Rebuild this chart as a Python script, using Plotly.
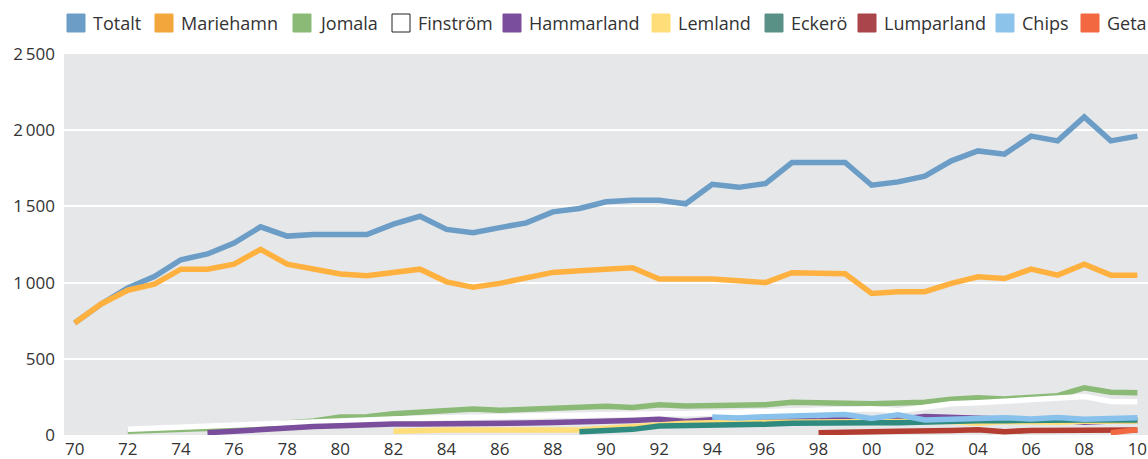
import plotly.graph_objects as go

# ---- data ----
series_names = ["Totalt", "Mariehamn", "Jomala", "Finström", "Hammarland",
                "Lemland", "Eckerö", "Lumparland", "Chips", "Geta"]
start_years = [1970, 1970, 1972, 1972, 1975, 1982, 1989, 1998, 1994, 2009]

totalt = [735, 860, 965, 1040, 1150, 1188, 1260, 1366, 1305, 1315,
          1315, 1315, 1384, 1435, 1349, 1327, 1361, 1392, 1464, 1486,
          1530, 1540, 1540, 1517, 1645, 1625, 1650, 1788, 1788, 1788,
          1639, 1661, 1698, 1799, 1864, 1843, 1961, 1930, 2087, 1930, 1961]
mariehamn = [735, 860, 950, 990, 1088, 1088, 1121, 1218, 1121, 1090,
             1056, 1045, 1071, 1088, 1005, 969, 995, 1027, 1067, 1078,
             1088, 1097, 1023, 1023, 1023, 1012, 1000, 1065, 1058, 1058,
             929, 940, 940, 995, 1038, 1027, 1088, 1049, 1121, 1049, 1049]
jomala = [25, 30, 33, 38, 50, 65, 75, 92,
          118, 120, 140, 150, 152, 170, 162, 170, 180, 182,
          188, 180, 198, 190, 190, 190, 198, 215, 215, 208,
          205, 206, 215, 235, 245, 237, 248, 258, 310, 280, 278]
finstrom = [38, 45, 50, 55, 62, 72, 82, 90,
            98, 100, 105, 110, 115, 115, 120, 125, 128, 130,
            135, 138, 140, 140, 145, 150, 155, 160, 165, 170,
            172, 160, 185, 205, 212, 220, 232, 238, 252, 220, 218]
hammarland = [15, 26, 33, 45, 55,
              60, 68, 72, 72, 72, 72, 72, 78, 82, 85,
              92, 95, 103, 88, 100, 98, 103, 103, 92, 108,
              94, 103, 122, 115, 109, 98, 98, 98, 83, 92, 94]
lemland = [24, 31, 33, 33, 33, 34, 36, 33,
           44, 55, 72, 77, 81, 83, 83, 85, 88, 88,
           88, 88, 88, 88, 77, 88, 87, 83, 90, 90, 92]
eckero = [22,
          26, 37, 59, 61, 61, 61, 70, 77, 81, 81,
          81, 81, 87, 92, 94, 94, 98, 98, 98, 98, 98]
lumparland = [15, 15, 22, 25, 25, 30, 35, 22, 30, 30, 30, 30, 32]
chips = [118, 112, 120, 125, 128, 135, 108, 132, 98, 103, 105, 114, 105, 115, 104, 105, 114]
geta = [15, 35]

x_tick_vals = list(range(1970, 2011, 2))
x_tick_text = ["70", "72", "74", "76", "78", "80", "82", "84", "86", "88",
               "90", "92", "94", "96", "98", "00", "02", "04", "06", "08", "10"]
y_tick_vals = [0, 500, 1000, 1500, 2000, 2500]
y_tick_text = ["0", "500", "1\u2009000", "1\u2009500", "2\u2009000", "2\u2009500"]

# ---- styles ----
all_values = [totalt, mariehamn, jomala, finstrom, hammarland,
              lemland, eckero, lumparland, chips, geta]
line_colors = ["#6b9dc6", "#ffb140", "#8aba76", "#ffffff", "#7a4e9c",
               "#ffde7a", "#2f8a80", "#b33d30", "#88c2ec", "#f26841"]
legend_colors = ["#6b9dc6", "#f2a63c", "#8aba76", "#ffffff", "#7a4e9c",
                 "#ffde7a", "#5a9186", "#a9454b", "#8cc3ea", "#f26841"]

FONT = "Open Sans"
fig = go.Figure()
for name, start, vals, col in zip(series_names, start_years, all_values, line_colors):
    fig.add_trace(go.Scatter(
        x=list(range(start, start + len(vals))), y=vals, name=name,
        mode="lines", line=dict(color=col, width=5.5), showlegend=False,
        hoverinfo="x+y+name"))

# manual legend (squares + labels)
L, R, T, B = 64, 1148, 54, 435
W, H = R - L, B - T
sq_left = [67, 155, 293, 392, 503, 652, 765, 858, 996, 1081]
SQ = 18
sq_top = 14
shapes = []
annotations = []
for name, px, col in zip(series_names, sq_left, legend_colors):
    shapes.append(dict(
        type="rect", xref="paper", yref="paper",
        x0=(px - L) / W, x1=(px + SQ - L) / W,
        y0=(B - sq_top - SQ) / H, y1=(B - sq_top) / H,
        fillcolor=col,
        line=dict(color="#222222" if col == "#ffffff" else col, width=1)))
    annotations.append(dict(
        text=name, xref="paper", yref="paper",
        x=(px + 24 - L) / W, y=(B - sq_top - SQ / 2) / H, xanchor="left", yanchor="middle",
        showarrow=False, font=dict(family=FONT, size=18, color="#333333")))

fig.update_layout(
    width=1148, height=459,
    margin=dict(l=L, r=1148 - R, t=T, b=459 - B),
    paper_bgcolor="#ffffff", plot_bgcolor="#e6e7e9",
    font=dict(family=FONT, size=17, color="#333333"),
    shapes=shapes, annotations=annotations,
    xaxis=dict(range=[1969.6, 2010.4], tickvals=x_tick_vals, ticktext=x_tick_text,
               showgrid=False, zeroline=False, showline=False, ticks="",
               ticklabelstandoff=2,
               tickfont=dict(family=FONT, size=17, color="#333333")),
    yaxis=dict(range=[0, 2500], tickvals=y_tick_vals, ticktext=y_tick_text,
               showgrid=True, gridcolor="#ffffff", gridwidth=2,
               zeroline=False, showline=False, ticks="", ticklabelstandoff=8,
               tickfont=dict(family=FONT, size=17, color="#333333")),
    showlegend=False,
)

fig.write_html("out.html", config={"displayModeBar": False})

# remove default page margin so the figure sits at the window's top-left corner
with open("out.html", encoding="utf-8") as f:
    html = f.read()
html = html.replace("<head>", "<head><style>html,body{margin:0;padding:0;overflow:hidden;}</style>", 1)
with open("out.html", "w", encoding="utf-8") as f:
    f.write(html)
